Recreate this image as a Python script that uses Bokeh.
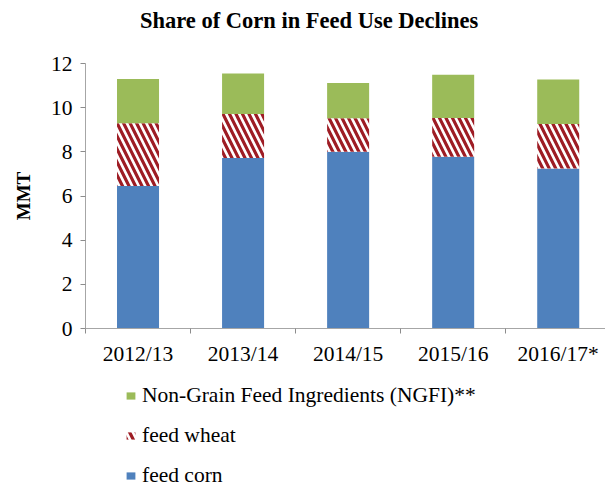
import numpy as np
from bokeh.plotting import figure
from bokeh.layouts import column
from bokeh.models import Range1d, FixedTicker, Legend, LegendItem, Label
from bokeh.embed import file_html
from bokeh.resources import INLINE

years = ["2012/13", "2013/14", "2014/15", "2015/16", "2016/17*"]
feed_corn = [6.45, 7.72, 8.00, 7.78, 7.25]
feed_wheat = [2.84, 1.99, 1.52, 1.75, 2.01]
ngfi = [2.01, 1.84, 1.60, 1.96, 2.01]
y_ticks = [0, 2, 4, 6, 8, 10, 12]
series_labels = ["Non-Grain Feed Ingredients (NGFI)**", "feed wheat", "feed corn"]
title_text = "Share of Corn in Feed Use Declines"

x = np.arange(len(years)) + 0.5
corn = np.array(feed_corn)
wheat = np.array(feed_wheat)
other = np.array(ngfi)

FONT = "Liberation Serif"
BLUE, GREEN, RED = "#4f81bd", "#9bbb59", "#9e1c24"
HATCH = dict(hatch_pattern="left_diagonal_line", hatch_color=RED, hatch_weight=3.2, hatch_scale=13)


def strip(height):
    f = figure(width=605, height=height, output_backend="svg", toolbar_location=None,
               x_range=Range1d(0, 1), y_range=Range1d(0, 1),
               x_axis_location=None, y_axis_location=None,
               min_border_left=0, min_border_right=0, min_border_top=0, min_border_bottom=0)
    f.outline_line_color = None
    f.xgrid.grid_line_color = None
    f.ygrid.grid_line_color = None
    return f


# title strip
p0 = strip(40)
p0.add_layout(Label(x=0.43, y=0.5, text=title_text, text_align="center", text_baseline="middle",
                    text_font=FONT, text_font_style="bold", text_font_size="22.5px", text_color="black"))

# main chart
p = figure(frame_width=520, frame_height=265, output_backend="svg", toolbar_location=None,
           x_range=Range1d(0, 4.95), y_range=Range1d(0, 12),
           min_border_left=85, min_border_right=0, min_border_top=23, min_border_bottom=37)
p.outline_line_color = None
p.xgrid.grid_line_color = None
p.ygrid.grid_line_color = None

p.vbar(x=x, width=0.4, bottom=0, top=corn, fill_color=BLUE, line_color=None)
p.vbar(x=x, width=0.4, bottom=corn, top=corn + wheat, fill_color="white", line_color=None, **HATCH)
p.vbar(x=x, width=0.4, bottom=corn + wheat, top=corn + wheat + other, fill_color=GREEN, line_color=None)

# x axis: labels at centers, ticks at category boundaries
p.xaxis.ticker = FixedTicker(ticks=list(x), minor_ticks=[0, 1, 2, 3, 4])
p.xaxis.major_label_overrides = {float(v): lab for v, lab in zip(x, years)}
p.xaxis.major_tick_out = 0
p.xaxis.major_tick_in = 0
p.xaxis.minor_tick_out = 5
p.xaxis.minor_tick_in = 0
p.xaxis.minor_tick_line_color = "#8c8c8c"
p.xaxis.axis_line_color = "#a6a6a6"
p.xaxis.major_label_text_font = FONT
p.xaxis.major_label_text_font_size = "21.5px"
p.xaxis.major_label_text_color = "black"
p.xaxis.major_label_standoff = 8

p.yaxis.ticker = FixedTicker(ticks=y_ticks)
p.yaxis.minor_tick_line_color = None
p.yaxis.major_tick_out = 5
p.yaxis.major_tick_in = 0
p.yaxis.major_tick_line_color = "#8c8c8c"
p.yaxis.axis_line_color = "#a6a6a6"
p.yaxis.major_label_text_font = FONT
p.yaxis.major_label_text_font_size = "21.5px"
p.yaxis.major_label_text_color = "black"
p.yaxis.major_label_standoff = 8
p.yaxis.axis_label = "MMT"
p.yaxis.axis_label_text_font = FONT
p.yaxis.axis_label_text_font_style = "bold"
p.yaxis.axis_label_text_font_size = "19px"
p.yaxis.axis_label_text_color = "black"
p.yaxis.axis_label_standoff = 14

# legend strip (zero-size swatch renderers)
p2 = strip(120)
l_ngfi = p2.vbar(x=[0.5], bottom=[0], top=[0], width=0, fill_color=GREEN, line_color=None)
l_wheat = p2.vbar(x=[0.5], bottom=[0], top=[0], width=0, fill_color="white", line_color=None, **HATCH)
l_corn = p2.vbar(x=[0.5], bottom=[0], top=[0], width=0, fill_color=BLUE, line_color=None)

legend = Legend(items=[
    LegendItem(label=series_labels[0], renderers=[l_ngfi]),
    LegendItem(label=series_labels[1], renderers=[l_wheat]),
    LegendItem(label=series_labels[2], renderers=[l_corn]),
], location=(40, 0), orientation="vertical")
legend.padding = 0
legend.margin = 0
legend.border_line_color = None
legend.background_fill_alpha = 0
legend.label_text_font = FONT
legend.label_text_font_size = "21.5px"
legend.label_text_color = "black"
legend.glyph_width = 11
legend.glyph_height = 9
legend.label_standoff = 6
legend.label_height = 24
legend.spacing = 15
p2.add_layout(legend, "center")

layout = column(p0, p, p2, spacing=0)
open("out.html", "w").write(file_html(layout, INLINE))
